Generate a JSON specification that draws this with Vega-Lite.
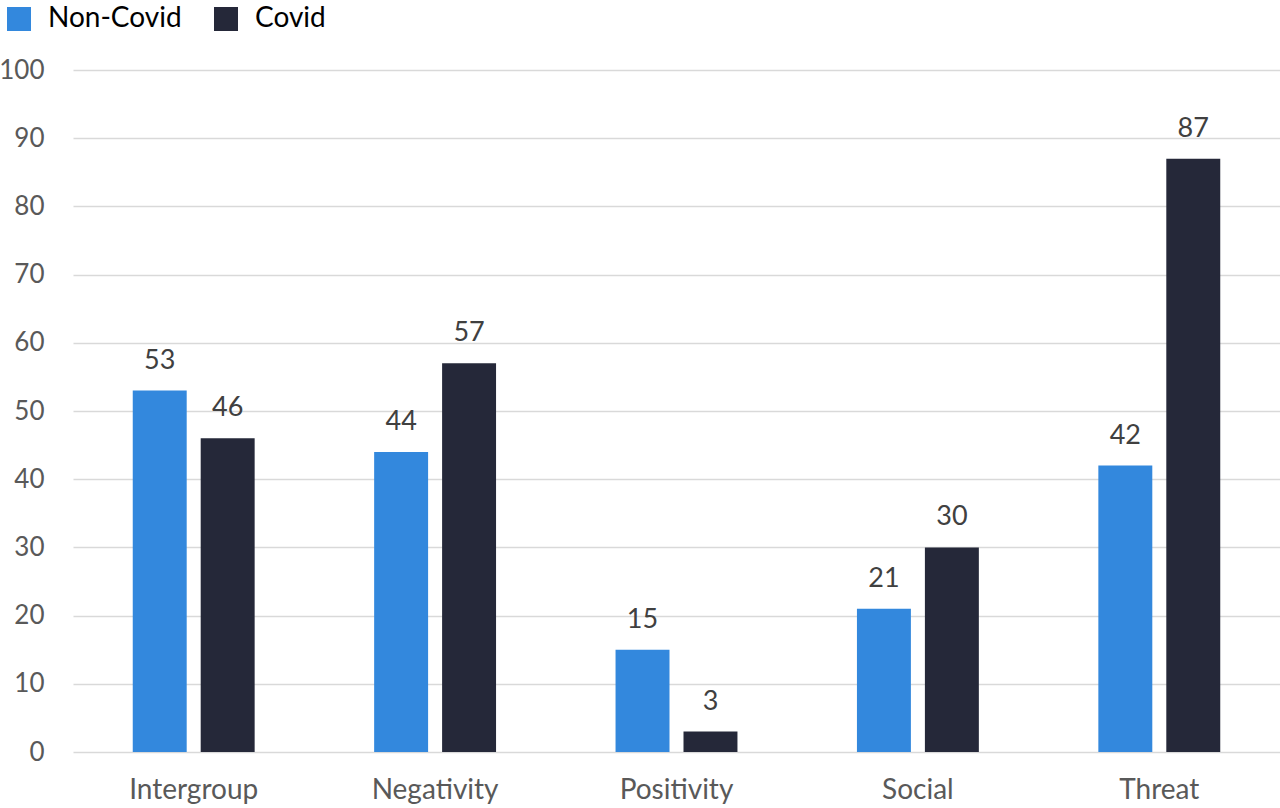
{
  "$schema": "https://vega.github.io/schema/vega-lite/v6.json",
  "width": 1207,
  "height": 682,
  "autosize": "none",
  "padding": {"left": 73, "top": 70, "right": 0, "bottom": 56},
  "background": "white",
  "data": {
    "values": [
      {"category": "Intergroup", "group": "Non-Covid", "value": 53},
      {"category": "Intergroup", "group": "Covid", "value": 46},
      {"category": "Negativity", "group": "Non-Covid", "value": 44},
      {"category": "Negativity", "group": "Covid", "value": 57},
      {"category": "Positivity", "group": "Non-Covid", "value": 15},
      {"category": "Positivity", "group": "Covid", "value": 3},
      {"category": "Social", "group": "Non-Covid", "value": 21},
      {"category": "Social", "group": "Covid", "value": 30},
      {"category": "Threat", "group": "Non-Covid", "value": 42},
      {"category": "Threat", "group": "Covid", "value": 87}
    ]
  },
  "encoding": {
    "x": {
      "field": "category",
      "type": "nominal",
      "title": null,
      "scale": {"paddingInner": 0.495, "paddingOuter": 0.2475},
      "axis": {
        "labelAngle": 0,
        "labelFontSize": 28,
        "labelColor": "#595959",
        "labelPadding": 24,
        "ticks": false,
        "domain": false
      }
    },
    "xOffset": {
      "field": "group",
      "sort": ["Non-Covid", "Covid"],
      "scale": {"paddingInner": 0.206, "paddingOuter": 0}
    },
    "y": {
      "field": "value",
      "type": "quantitative",
      "title": null,
      "scale": {"domain": [0, 100]},
      "axis": {
        "values": [0, 10, 20, 30, 40, 50, 60, 70, 80, 90, 100],
        "labelOverlap": false,
        "labelFontSize": 26,
        "labelColor": "#595959",
        "labelPadding": 29,
        "ticks": false,
        "domain": false,
        "gridColor": "#d9d9d9",
        "gridWidth": 1.5
      }
    }
  },
  "layer": [
    {
      "mark": {"type": "bar"},
      "encoding": {
        "color": {
          "field": "group",
          "type": "nominal",
          "sort": ["Non-Covid", "Covid"],
          "scale": {"domain": ["Non-Covid", "Covid"], "range": ["#3388dd", "#252839"]},
          "legend": {
            "title": null,
            "orient": "none",
            "legendX": -68,
            "legendY": -65,
            "direction": "horizontal",
            "symbolType": "square",
            "symbolSize": 576,
            "symbolStrokeWidth": 0,
            "symbolOpacity": 1,
            "labelFontSize": 28,
            "labelColor": "#000000",
            "labelOffset": 15,
            "columnPadding": 30
          }
        }
      }
    },
    {
      "mark": {"type": "text", "baseline": "alphabetic", "dy": -22, "fontSize": 27, "color": "#404040"},
      "encoding": {
        "text": {"field": "value", "type": "quantitative"}
      }
    }
  ],
  "config": {
    "font": "Lato",
    "view": {"stroke": null}
  }
}
